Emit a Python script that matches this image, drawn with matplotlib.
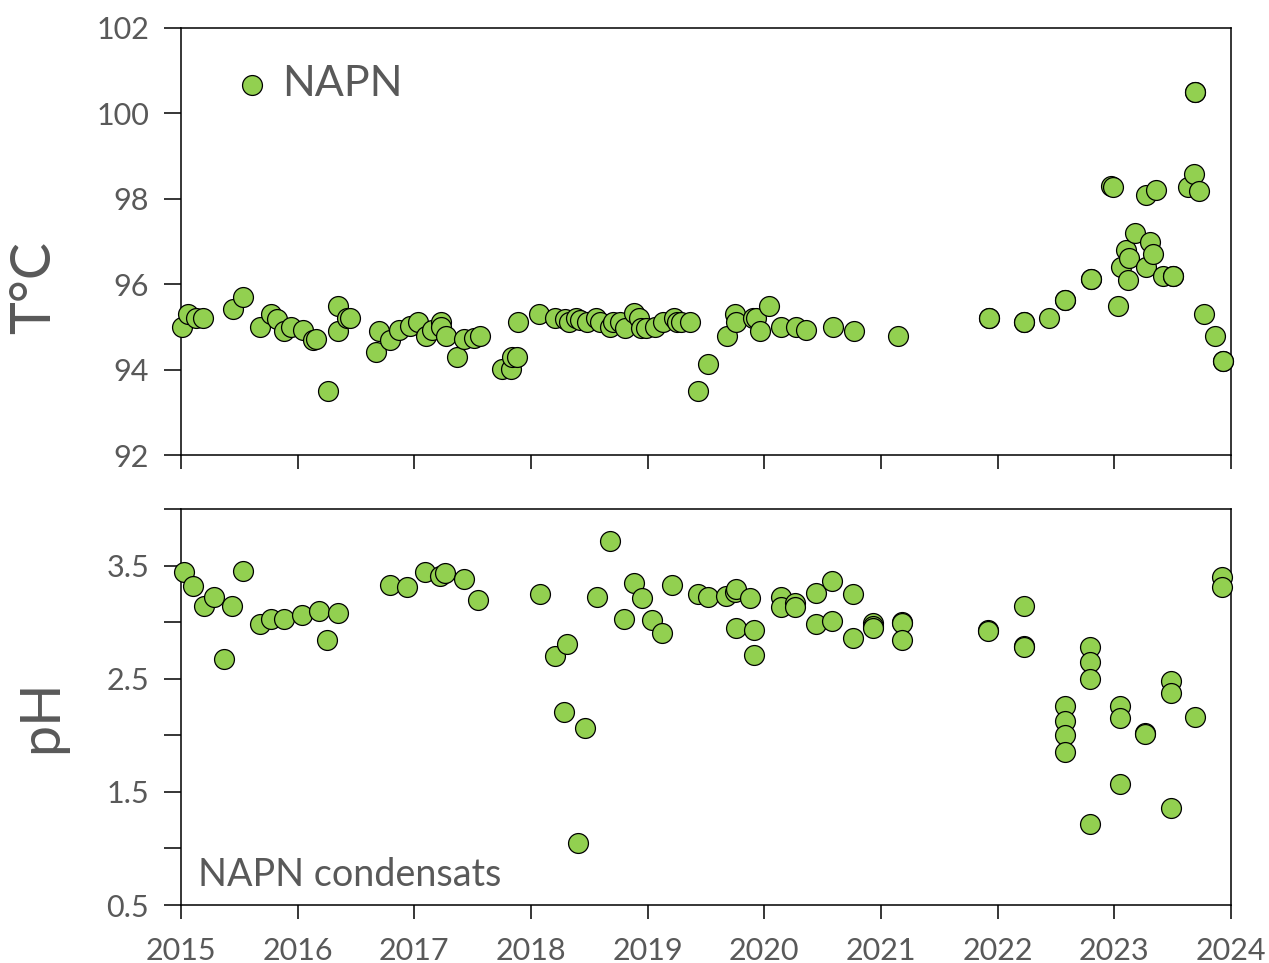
import matplotlib
matplotlib.use("Agg")
import matplotlib.pyplot as plt
import numpy as np

# ---- data: top panel (temperature) ----
t_year = [2015.01, 2015.06, 2015.13, 2015.19, 2015.45, 2015.53, 2015.68, 2015.77, 2015.82, 2015.88,
          2015.94, 2016.05, 2016.13, 2016.16, 2016.26, 2016.35, 2016.35, 2016.42, 2016.45, 2016.67,
          2016.70, 2016.79, 2016.87, 2016.96, 2017.03, 2017.10, 2017.15, 2017.23, 2017.23, 2017.27,
          2017.37, 2017.43, 2017.51, 2017.56, 2017.75, 2017.83, 2017.84, 2017.88, 2017.89, 2018.07,
          2018.21, 2018.29, 2018.33, 2018.39, 2018.42, 2018.48, 2018.56, 2018.59, 2018.68, 2018.70,
          2018.76, 2018.81, 2018.88, 2018.93, 2018.94, 2018.99, 2019.06, 2019.13, 2019.23, 2019.25,
          2019.29, 2019.36, 2019.43, 2019.52, 2019.68, 2019.75, 2019.76, 2019.90, 2019.93, 2019.96,
          2020.04, 2020.14, 2020.27, 2020.36, 2020.59, 2020.77, 2021.15, 2021.93, 2021.93, 2022.23,
          2022.23, 2022.44, 2022.58, 2022.58, 2022.80, 2022.80, 2022.97, 2022.99, 2023.03, 2023.06,
          2023.10, 2023.12, 2023.13, 2023.18, 2023.27, 2023.27, 2023.31, 2023.33, 2023.36, 2023.42,
          2023.50, 2023.50, 2023.63, 2023.68, 2023.69, 2023.69, 2023.73, 2023.77, 2023.86, 2023.93,
          2023.93]
t_val = [95.00, 95.30, 95.20, 95.20, 95.42, 95.71, 95.00, 95.30, 95.18, 94.90,
         95.00, 94.93, 94.69, 94.71, 93.50, 95.50, 94.91, 95.22, 95.20, 94.42,
         94.91, 94.69, 94.93, 95.02, 95.12, 94.79, 94.93, 95.12, 95.00, 94.78,
         94.30, 94.71, 94.73, 94.79, 94.01, 94.01, 94.30, 94.30, 95.12, 95.30,
         95.22, 95.18, 95.12, 95.20, 95.16, 95.12, 95.20, 95.12, 95.00, 95.12,
         95.12, 94.97, 95.32, 95.20, 94.97, 94.97, 95.00, 95.12, 95.20, 95.12,
         95.12, 95.12, 93.50, 94.12, 94.79, 95.30, 95.12, 95.22, 95.20, 94.91,
         95.50, 95.00, 95.00, 94.93, 95.00, 94.91, 94.79, 95.20, 95.20, 95.12,
         95.12, 95.20, 95.63, 95.63, 96.12, 96.12, 98.30, 98.28, 95.50, 96.41,
         96.80, 96.11, 96.61, 97.21, 96.41, 98.08, 97.00, 96.71, 98.21, 96.20,
         96.20, 96.20, 98.28, 98.58, 100.50, 100.50, 98.19, 95.30, 94.79, 94.21,
         94.21]

# ---- data: bottom panel (pH) ----
ph_year = [2015.03, 2015.10, 2015.20, 2015.28, 2015.37, 2015.44, 2015.53, 2015.68, 2015.77, 2015.88,
           2016.04, 2016.18, 2016.25, 2016.35, 2016.79, 2016.94, 2017.09, 2017.22, 2017.26, 2017.43,
           2017.55, 2018.08, 2018.21, 2018.28, 2018.31, 2018.40, 2018.46, 2018.57, 2018.68, 2018.80,
           2018.88, 2018.95, 2019.04, 2019.12, 2019.21, 2019.43, 2019.52, 2019.67, 2019.75, 2019.76,
           2019.76, 2019.88, 2019.91, 2019.91, 2020.14, 2020.14, 2020.26, 2020.26, 2020.44, 2020.44,
           2020.58, 2020.58, 2020.76, 2020.76, 2020.93, 2020.93, 2020.93, 2021.18, 2021.18, 2021.18,
           2021.92, 2021.92, 2022.23, 2022.23, 2022.23, 2022.58, 2022.58, 2022.58, 2022.58, 2022.79,
           2022.79, 2022.79, 2022.79, 2023.05, 2023.05, 2023.05, 2023.26, 2023.26, 2023.49, 2023.49,
           2023.49, 2023.69, 2023.92, 2023.92]
ph_val = [3.44, 3.32, 3.14, 3.22, 2.67, 3.14, 3.45, 2.98, 3.03, 3.03,
          3.06, 3.10, 2.84, 3.08, 3.33, 3.31, 3.44, 3.41, 3.43, 3.38,
          3.20, 3.25, 2.70, 2.21, 2.81, 1.05, 2.06, 3.22, 3.72, 3.03,
          3.35, 3.21, 3.02, 2.90, 3.33, 3.25, 3.22, 3.23, 3.27, 3.29,
          2.95, 3.21, 2.93, 2.71, 3.22, 3.13, 3.17, 3.13, 3.26, 2.98,
          3.36, 3.01, 3.25, 2.86, 2.99, 2.97, 2.95, 3.00, 2.99, 2.84,
          2.93, 2.92, 3.14, 2.79, 2.78, 2.26, 2.13, 2.00, 1.85, 2.78,
          2.65, 2.50, 1.22, 2.26, 2.15, 1.57, 2.02, 2.01, 2.48, 2.37,
          1.36, 2.16, 3.40, 3.31]

year_ticks = list(range(2015, 2025))
t_ticks = [92, 94, 96, 98, 100, 102]
ph_ticks = [0.5, 1.0, 1.5, 2.0, 2.5, 3.0, 3.5, 4.0]
ph_labels = ["0.5", "", "1.5", "", "2.5", "", "3.5", ""]

GREEN = "#92D050"
GREY = "#595959"
plt.rcParams['font.family'] = ['Lato', 'DejaVu Sans']

fig = plt.figure(figsize=(12.69, 9.63), dpi=100)
ax1 = fig.add_axes([181/1269, 1-455/963, 1050/1269, 427/963])
ax2 = fig.add_axes([181/1269, 1-905/963, 1050/1269, 396/963])

mk = dict(s=205, c=GREEN, edgecolors="black", linewidths=0.9, zorder=3, clip_on=False)

ax1.scatter(t_year, t_val, label="NAPN", **mk)
ax2.scatter(ph_year, ph_val, **mk)

for ax in (ax1, ax2):
    ax.set_xlim(2015, 2024)
    ax.set_xticks(year_ticks)
    for s in ax.spines.values():
        s.set_linewidth(1.1)
        s.set_color("black")
    ax.tick_params(axis='both', direction='out', width=1.1, color='black',
                   labelsize=22, labelcolor=GREY)
    ax.tick_params(axis='y', length=12, pad=11)
    ax.tick_params(axis='x', length=10, pad=13)

ax1.set_ylim(92, 102)
ax1.set_yticks(t_ticks)
ax1.set_xticklabels([])

ax2.set_ylim(0.5, 4.0)
ax2.set_yticks(ph_ticks)
ax2.set_yticklabels(ph_labels)
ax2.set_xticklabels([str(y) for y in year_ticks])

fig.text(35/1269, 1-287/963, "T°C", rotation=90, ha='center', va='center',
         fontsize=40, color=GREY)
fig.text(42/1269, 1-716/963, "pH", rotation=90, ha='center', va='center',
         fontsize=40, color=GREY)

leg = ax1.legend(loc='center left', bbox_to_anchor=(0.035, (455-84)/427), frameon=False,
                 fontsize=31, handlelength=0.8, handletextpad=0.3, borderaxespad=0,
                 markerscale=1.0, labelcolor=GREY)

ax2.text(198/1269, 1-875/963, "NAPN condensats", transform=fig.transFigure,
         fontsize=27.2, color=GREY, ha='left', va='center')

fig.savefig("out.png", dpi=100)
